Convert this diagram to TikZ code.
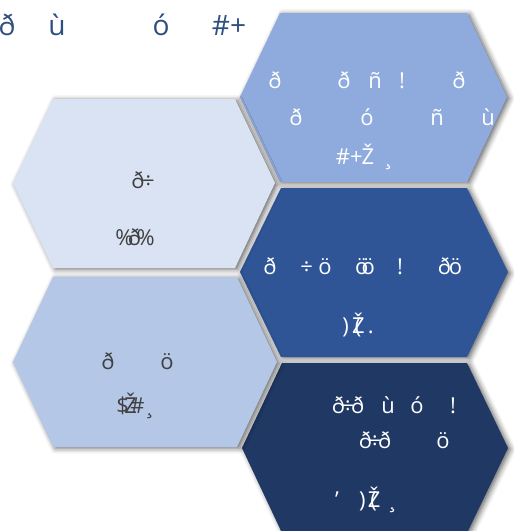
\documentclass[tikz,border=0pt]{standalone}
\usepackage{fontspec}
\setmainfont{Open Sans}
\usetikzlibrary{shadows.blur}

\definecolor{hexone}{HTML}{8FAADC}
\definecolor{hextwo}{HTML}{DAE3F3}
\definecolor{hexthree}{HTML}{2F5597}
\definecolor{hexfour}{HTML}{B4C7E7}
\definecolor{hexfive}{HTML}{203864}
\definecolor{textgray}{HTML}{404040}
\definecolor{titleblue}{HTML}{2F4F7F}

\tikzset{
  hexa/.style={draw=none, blur shadow={shadow xshift=1.5pt, shadow yshift=-0.8pt, shadow blur radius=3pt, shadow opacity=60}},
  lbl/.style={anchor=base, inner sep=0pt, font=\fontsize{12.5}{15}\selectfont},
  lblw/.style={lbl, text=white},
  lbld/.style={lbl, text=textgray},
  ttl/.style={anchor=base, inner sep=0pt, text=titleblue, font=\fontsize{16}{19}\selectfont},
}

\begin{document}
\begin{tikzpicture}[x=0.02cm, y=-0.02cm]
		\clip (0,0) rectangle (514,531);
		% heading
		\node[ttl] (t1) at (7,35) {ð};
		\node[ttl] (t2) at (57,35) {ù};
		\node[ttl] (t3) at (161,35) {ó};
		\node[ttl] (t4) at (229,35) {\#+};
		% right column
		\fill[hexa, hexone] (280,13) -- (467,13) -- (507,97) -- (467,182) -- (280,182) -- (240,97) -- cycle;
		\fill[hexa, hexthree] (281,188) -- (467,188) -- (508,272) -- (467,357) -- (281,357) -- (240,272) -- cycle;
		\fill[hexa, hexfive] (282,363) -- (467,363) -- (508,448) -- (467,533) -- (282,533) -- (242,448) -- cycle;
		% left column
		\fill[hexa, hextwo] (53,99) -- (235,99) -- (275,183) -- (235,268) -- (53,268) -- (13,183) -- cycle;
		\fill[hexa, hexfour] (53,277) -- (237,277) -- (277,362) -- (237,447) -- (53,447) -- (13,362) -- cycle;
		% first hexagon
		\node[lblw] (a1) at (275,88) {ð};
		\node[lblw] (a2) at (344,88) {ð};
		\node[lblw] (a3) at (375,88) {ñ};
		\node[lblw] (a4) at (402,88) {!};
		\node[lblw] (a5) at (459,88) {ð};
		\node[lblw] (a6) at (296,125) {ð};
		\node[lblw] (a7) at (367,125) {ó};
		\node[lblw] (a8) at (437,125) {ñ};
		\node[lblw] (a9) at (488,125) {ù};
		\node[lblw] (a10) at (355,164) {\#+\kern-0.05em Ž};
		\node[lblw] (a11) at (388,164) {¸};
		% second hexagon
		\node[lbld] (b1) at (143,188) {ð\kern-0.1em÷};
		\node[lbld] (b2) at (135,245) {\%\kern-0.25em ð\kern-0.2em\%};
		% third hexagon
		\node[lblw] (c1) at (270,274) {ð};
		\node[lblw] (c2) at (316,274) {÷\kern0.25em ö};
		\node[lblw] (c3) at (365,274) {ö\kern-0.3em ö};
		\node[lblw] (c4) at (400,274) {!};
		\node[lblw] (c5) at (450,274) {ð\kern-0.1em ö};
		\node[lblw] (c6) at (358,333) {)\kern0.15em Ž\kern-0.45em(\kern0.3em .};
		% fourth hexagon
		\node[lbld] (d1) at (108,369) {ð};
		\node[lbld] (d2) at (167,369) {ö};
		\node[lbld] (d3) at (134,413) {\$\kern-0.2em Ž\kern-0.3em\#\kern0.1em ¸};
		% fifth hexagon
		\node[lblw] (e1) at (348,413) {ð\kern-0.15em÷\kern-0.15em ð};
		\node[lblw] (e2) at (388,413) {ù};
		\node[lblw] (e3) at (417,413) {ó};
		\node[lblw] (e4) at (453,413) {!};
		\node[lblw] (e5) at (375,448) {ð\kern-0.15em÷\kern-0.15em ð};
		\node[lblw] (e6) at (443,448) {ö};
		\node[lblw] (e7) at (337,507) {'};
		\node[lblw] (e8) at (368,507) {)\kern0.1em Ž\kern-0.45em(};
		\node[lblw] (e9) at (392,507) {¸};
\end{tikzpicture}
\end{document}
